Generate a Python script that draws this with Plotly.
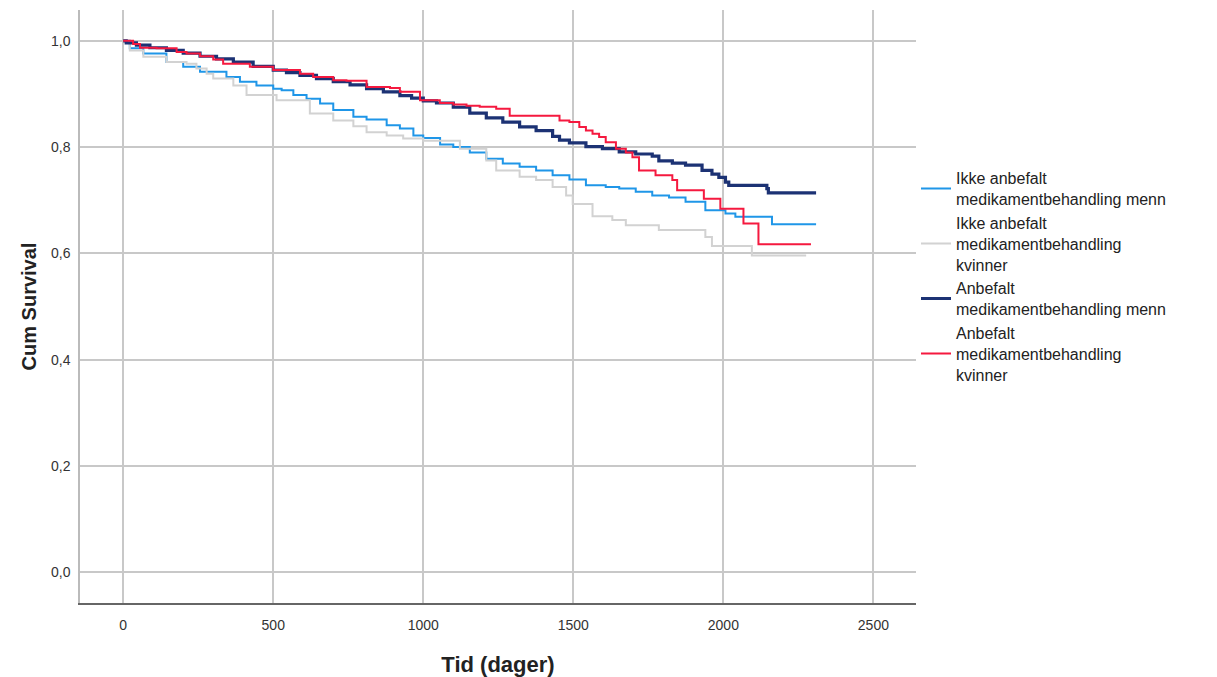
import plotly.graph_objects as go

# ---- data (days, cumulative survival) ----
ikke_menn_t = [0, 22, 67, 144, 200, 256, 344, 389, 444, 500, 528, 567, 611, 656, 700, 767, 811, 878, 922, 967, 1000,
               1056, 1100, 1155, 1210, 1265, 1321, 1376, 1431, 1487, 1542, 1608, 1653, 1708, 1763, 1819, 1874, 1940,
               2007, 2040, 2162, 2309]
ikke_menn_s = [1.0, 0.986, 0.976, 0.960, 0.951, 0.942, 0.932, 0.923, 0.916, 0.910, 0.907, 0.898, 0.891, 0.882, 0.870,
               0.857, 0.852, 0.841, 0.835, 0.822, 0.817, 0.805, 0.800, 0.790, 0.778, 0.769, 0.763, 0.756, 0.747, 0.739,
               0.728, 0.725, 0.722, 0.716, 0.709, 0.705, 0.697, 0.681, 0.675, 0.669, 0.655, 0.655]

ikke_kvinner_t = [0, 22, 67, 144, 211, 244, 278, 300, 367, 411, 511, 622, 700, 767, 811, 878, 933, 1000, 1122, 1210,
                  1243, 1321, 1376, 1431, 1476, 1498, 1564, 1630, 1675, 1785, 1940, 1962, 2095, 2276]
ikke_kvinner_s = [1.0, 0.982, 0.970, 0.960, 0.957, 0.948, 0.938, 0.929, 0.916, 0.898, 0.888, 0.863, 0.850, 0.839,
                  0.828, 0.822, 0.816, 0.812, 0.797, 0.775, 0.756, 0.744, 0.738, 0.725, 0.709, 0.693, 0.670, 0.663,
                  0.653, 0.644, 0.631, 0.614, 0.596, 0.596]

anb_menn_t = [0, 10, 44, 89, 144, 200, 256, 311, 367, 433, 500, 544, 589, 644, 700, 756, 811, 867, 922, 961, 1000,
              1044, 1100, 1155, 1210, 1265, 1321, 1376, 1431, 1454, 1487, 1542, 1597, 1653, 1708, 1763, 1785, 1830,
              1874, 1929, 1962, 1985, 2007, 2018, 2139, 2145, 2150, 2309]
anb_menn_s = [1.0, 0.996, 0.992, 0.987, 0.982, 0.977, 0.971, 0.966, 0.960, 0.952, 0.945, 0.940, 0.935, 0.929, 0.923,
              0.917, 0.910, 0.904, 0.897, 0.892, 0.887, 0.883, 0.875, 0.864, 0.855, 0.847, 0.838, 0.831, 0.820, 0.813,
              0.808, 0.801, 0.797, 0.791, 0.787, 0.783, 0.774, 0.770, 0.766, 0.756, 0.749, 0.743, 0.734, 0.728, 0.728,
              0.722, 0.714, 0.714]

anb_kvinner_t = [0, 33, 56, 111, 178, 211, 256, 300, 333, 422, 500, 589, 633, 700, 744, 811, 889, 922, 989, 1055,
                 1100, 1144, 1188, 1243, 1288, 1454, 1487, 1520, 1542, 1564, 1586, 1608, 1642, 1675, 1697, 1719, 1774,
                 1830, 1846, 1935, 1990, 2067, 2117, 2292]
anb_kvinner_s = [1.0, 0.994, 0.987, 0.986, 0.979, 0.976, 0.971, 0.965, 0.957, 0.951, 0.945, 0.938, 0.932, 0.926,
                 0.925, 0.913, 0.911, 0.904, 0.888, 0.883, 0.880, 0.878, 0.876, 0.872, 0.859, 0.850, 0.847, 0.838,
                 0.831, 0.825, 0.819, 0.809, 0.797, 0.790, 0.781, 0.756, 0.747, 0.738, 0.719, 0.703, 0.684, 0.656,
                 0.617, 0.617]

series_names = [
    "Ikke anbefalt<br>medikamentbehandling menn",
    "Ikke anbefalt<br>medikamentbehandling<br>kvinner",
    "Anbefalt<br>medikamentbehandling menn",
    "Anbefalt<br>medikamentbehandling<br>kvinner",
]
series_t = [ikke_menn_t, ikke_kvinner_t, anb_menn_t, anb_kvinner_t]
series_s = [ikke_menn_s, ikke_kvinner_s, anb_menn_s, anb_kvinner_s]
colors = ["#1f96e8", "#d2d2d2", "#1c3274", "#f5193f"]
widths = [2, 2, 3.2, 2]

x_ticks = [0, 500, 1000, 1500, 2000, 2500]
y_ticks = [0.0, 0.2, 0.4, 0.6, 0.8, 1.0]
y_ticktext = ["0,0", "0,2", "0,4", "0,6", "0,8", "1,0"]

fig = go.Figure()
for name, t, s, c, w in zip(series_names, series_t, series_s, colors, widths):
    fig.add_trace(go.Scatter(x=t, y=s, mode="lines", name=name,
                             line=dict(color=c, width=w, shape="hv")))

font_family = "Liberation Sans, Arial, sans-serif"
# the page body adds an 8px margin, so the figure is 8px smaller and margins compensate
fig.update_layout(
    width=1209, height=669,
    margin=dict(l=72, r=301, t=2, b=74, autoexpand=False),
    paper_bgcolor="white", plot_bgcolor="white",
    font=dict(family=font_family, color="#222222"),
    showlegend=True,
    legend=dict(x=1.0, xanchor="left", y=0.745, yanchor="top",
                font=dict(size=16, color="#222222", family=font_family),
                bgcolor="rgba(0,0,0,0)", tracegroupgap=0),
    xaxis=dict(range=[-144, 2642], tickvals=x_ticks, showgrid=True, automargin=False,
               gridcolor="#c8c8c8", gridwidth=1.5, zeroline=False,
               showline=True, linecolor="#666666", linewidth=2,
               tickfont=dict(size=14, color="#333333"), ticklabelstandoff=8,
               title=dict(text="<b>Tid (dager)</b>", font=dict(size=22, color="#222222"), standoff=25)),
    yaxis=dict(range=[-0.058, 1.058], tickvals=y_ticks, ticktext=y_ticktext, showgrid=True, automargin=False,
               gridcolor="#c8c8c8", gridwidth=1.5, zeroline=False,
               showline=True, linecolor="#bbbbbb", linewidth=1.5,
               tickfont=dict(size=14, color="#333333"), ticklabelstandoff=5,
               title=dict(text="<b>Cum Survival</b>", font=dict(size=20, color="#222222"), standoff=9)),
)

fig.write_html("out.html")
